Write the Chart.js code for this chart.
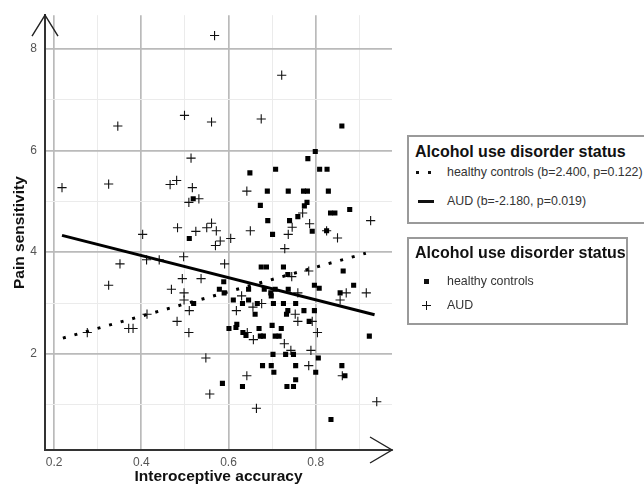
<!DOCTYPE html>
<html>
<head>
<meta charset="utf-8">
<script src="https://cdn.jsdelivr.net/npm/chart.js@4.4.1/dist/chart.umd.min.js"></script>
<style>
  body { margin: 0; background: #fff; font-family: 'Liberation Sans', Arial, sans-serif; }
  #wrap { position: relative; width: 644px; height: 486px; overflow: hidden; }
  #chart { position: absolute; left: 0; top: 0; }
  .legend-box { position: absolute; border: 2.5px solid #9a9a9a; box-sizing: border-box; background: #fff; }
  .legend-title { position: absolute; left: 6px; font-weight: bold; font-size: 16px; line-height: 18px; color: #111; white-space: nowrap; }
  .legend-item { position: absolute; left: 38px; font-size: 12.4px; line-height: 14px; color: #333; white-space: nowrap; }
  .sym { position: absolute; background: #111; }
</style>
</head>
<body>
<div id="wrap">
  <canvas id="chart" width="644" height="486"></canvas>

  <!-- legend: regression lines -->
  <div class="legend-box" style="left:407px; top:135px; width:250px; height:89px;">
    <div class="legend-title" style="top:6px;">Alcohol use disorder status</div>
    <div class="sym" style="left:7px; top:34px; width:3px; height:3px;"></div>
    <div class="sym" style="left:19px; top:34px; width:3px; height:3px;"></div>
    <div class="legend-item" style="top:28px;">healthy controls (b=2.400, p=0.122)</div>
    <div class="sym" style="left:9px; top:63px; width:16px; height:3px;"></div>
    <div class="legend-item" style="top:57px;">AUD (b=-2.180, p=0.019)</div>
  </div>

  <!-- legend: point shapes -->
  <div class="legend-box" style="left:407px; top:237px; width:221px; height:88px;">
    <div class="legend-title" style="top:5px;">Alcohol use disorder status</div>
    <div class="sym" style="left:15px; top:40px; width:5px; height:5px;"></div>
    <div class="legend-item" style="top:35px;">healthy controls</div>
    <div class="sym" style="left:13px; top:66px; width:9px; height:1px;"></div>
    <div class="sym" style="left:17px; top:62px; width:1px; height:9px;"></div>
    <div class="legend-item" style="top:59px;">AUD</div>
  </div>
</div>

<script>
// healthy controls (filled squares)
const healthyX = [0.519, 0.510, 0.860, 0.799, 0.782, 0.649, 0.708, 0.809, 0.826, 0.689, 0.737, 0.772, 0.781, 0.829,
  0.673, 0.780, 0.774, 0.834, 0.844, 0.878, 0.690, 0.740, 0.759, 0.701, 0.792, 0.825, 0.589, 0.579, 0.590, 0.520,
  0.611, 0.601, 0.617, 0.586, 0.675, 0.687, 0.726, 0.736, 0.863, 0.887, 0.797, 0.808, 0.856, 0.646, 0.682, 0.707,
  0.737, 0.697, 0.698, 0.632, 0.646, 0.661, 0.666, 0.703, 0.726, 0.754, 0.736, 0.733, 0.773, 0.797, 0.785, 0.633,
  0.640, 0.670, 0.673, 0.680, 0.700, 0.721, 0.707, 0.716, 0.702, 0.731, 0.749, 0.806, 0.678, 0.698, 0.754, 0.860,
  0.704, 0.800, 0.867, 0.754, 0.632, 0.734, 0.749, 0.835, 0.923, 0.619];
const healthyY = [5.05, 4.27, 6.48, 5.98, 5.84, 5.56, 5.63, 5.63, 5.63, 5.20, 5.20, 5.20, 5.20, 5.20,
  4.92, 4.98, 4.91, 4.77, 4.77, 4.84, 4.62, 4.62, 4.70, 4.35, 4.41, 4.42, 3.42, 3.27, 3.20, 2.99,
  3.06, 2.50, 2.52, 1.42, 3.71, 3.71, 3.71, 3.56, 3.63, 3.35, 3.35, 3.29, 3.20, 3.27, 3.27, 3.27,
  3.27, 3.20, 3.14, 2.99, 3.06, 2.78, 2.99, 2.99, 2.99, 2.99, 2.85, 2.78, 2.85, 2.85, 2.64, 2.42,
  2.36, 2.50, 2.35, 2.35, 2.56, 2.50, 2.35, 2.35, 1.99, 1.99, 1.99, 1.92, 1.77, 1.77, 1.77, 1.77,
  1.64, 1.64, 1.57, 1.49, 1.36, 1.36, 1.36, 0.71, 2.35, 2.58];

// AUD (crosses)
const audX = [0.568, 0.499, 0.561, 0.346, 0.722, 0.675, 0.514, 0.218, 0.325, 0.466, 0.481, 0.517, 0.532, 0.509,
  0.403, 0.483, 0.525, 0.550, 0.561, 0.572, 0.581, 0.570, 0.605, 0.642, 0.770, 0.746, 0.786, 0.926, 0.650,
  0.737, 0.825, 0.850, 0.729, 0.351, 0.412, 0.441, 0.497, 0.591, 0.325, 0.494, 0.537, 0.469, 0.498, 0.498,
  0.510, 0.618, 0.413, 0.482, 0.276, 0.371, 0.381, 0.509, 0.548, 0.557, 0.745, 0.784, 0.870, 0.916, 0.856,
  0.759, 0.630, 0.656, 0.676, 0.753, 0.759, 0.792, 0.804, 0.643, 0.657, 0.728, 0.743, 0.789, 0.784, 0.861,
  0.642, 0.940, 0.664];
const audY = [8.26, 6.69, 6.56, 6.48, 7.48, 6.62, 5.85, 5.27, 5.34, 5.33, 5.41, 5.27, 5.05, 4.98,
  4.35, 4.48, 4.41, 4.48, 4.57, 4.42, 4.22, 4.13, 4.27, 5.20, 4.77, 4.49, 4.56, 4.62, 4.42,
  4.35, 4.42, 4.28, 4.07, 3.77, 3.85, 3.85, 3.91, 3.77, 3.35, 3.48, 3.48, 3.27, 3.20, 3.06,
  2.85, 2.85, 2.78, 2.64, 2.42, 2.50, 2.50, 2.42, 1.92, 1.21, 3.52, 3.63, 3.20, 3.20, 3.06,
  3.20, 3.14, 2.92, 2.99, 2.78, 2.64, 2.64, 2.42, 2.42, 2.28, 2.20, 2.07, 2.07, 1.77, 1.57,
  1.57, 1.06, 0.93];

// fitted regression lines (end points)
const healthyFitX = [0.22, 0.915];
const healthyFitY = [2.31, 3.98];
const audFitX = [0.218, 0.935];
const audFitY = [4.33, 2.77];

// axes
const xTicks = [0.2, 0.3, 0.4, 0.5, 0.6, 0.7, 0.8, 0.9];
const yTicks = [1, 2, 3, 4, 5, 6, 7, 8];
const xRange = [0.179, 0.975];
const yRange = [0.11, 8.66];

const pts = (xs, ys) => xs.map((x, i) => ({ x: x, y: ys[i] }));
const isMajorX = v => Math.abs(v * 5 - Math.round(v * 5)) < 1e-6;
const isMajorY = v => v % 2 === 0;

const tickFont = { family: "'Liberation Sans', Arial, sans-serif", size: 12 };
const titleFont = { family: "'Liberation Sans', Arial, sans-serif", size: 15.5, weight: 'bold' };

// arrow heads at the ends of both axes
const axisArrows = {
  id: 'axisArrows',
  afterDraw(chart) {
    const { ctx, chartArea: a } = chart;
    ctx.save();
    ctx.strokeStyle = '#222';
    ctx.lineWidth = 1.4;
    ctx.beginPath();
    ctx.moveTo(a.left - 13, a.top + 21);
    ctx.lineTo(a.left, a.top);
    ctx.lineTo(a.left + 13, a.top + 21);
    ctx.moveTo(a.right - 22, a.bottom - 13);
    ctx.lineTo(a.right, a.bottom);
    ctx.lineTo(a.right - 22, a.bottom + 13);
    ctx.stroke();
    ctx.restore();
  }
};

new Chart(document.getElementById('chart'), {
  type: 'scatter',
  data: {
    datasets: [
      { label: 'healthy controls fit', type: 'line', data: pts(healthyFitX, healthyFitY), borderColor: '#000',
        borderWidth: 3, borderDash: [3, 9], pointRadius: 0, fill: false, order: 0 },
      { label: 'AUD fit', type: 'line', data: pts(audFitX, audFitY), borderColor: '#000',
        borderWidth: 3, pointRadius: 0, fill: false, order: 0 },
      { label: 'healthy controls', data: pts(healthyX, healthyY), pointStyle: 'rect', pointRadius: 3.6,
        backgroundColor: '#000', borderColor: '#000', borderWidth: 0, order: 1 },
      { label: 'AUD', data: pts(audX, audY), pointStyle: 'cross', pointRadius: 4.6,
        borderColor: '#111', borderWidth: 1.1, order: 1 }
    ]
  },
  options: {
    responsive: false,
    animation: false,
    devicePixelRatio: 1,
    layout: { padding: { top: 12, right: 252, left: 10, bottom: 0 } },
    plugins: { legend: { display: false }, tooltip: { enabled: false } },
    scales: {
      x: {
        type: 'linear', min: xRange[0], max: xRange[1],
        afterBuildTicks: s => { s.ticks = xTicks.map(v => ({ value: v })); },
        afterFit: s => { s.height = 36; },
        ticks: { color: '#555', font: tickFont, padding: 5,
          callback: v => isMajorX(v) ? v.toFixed(1) : '' },
        grid: { drawTicks: false,
          color: c => isMajorX(c.tick.value) ? '#bababa' : '#ebebeb',
          lineWidth: c => isMajorX(c.tick.value) ? 1.7 : 1 },
        border: { display: true, color: '#333', width: 2 },
        title: { display: true, text: 'Interoceptive accuracy', color: '#111', font: titleFont, padding: 0 }
      },
      y: {
        type: 'linear', min: yRange[0], max: yRange[1],
        afterBuildTicks: s => { s.ticks = yTicks.map(v => ({ value: v })); },
        afterFit: s => { s.width = 35; },
        ticks: { color: '#555', font: tickFont, padding: 8,
          callback: v => isMajorY(v) ? String(v) : '' },
        grid: { drawTicks: false,
          color: c => isMajorY(c.tick.value) ? '#bababa' : '#ebebeb',
          lineWidth: c => isMajorY(c.tick.value) ? 1.7 : 1 },
        border: { display: true, color: '#333', width: 2 },
        title: { display: true, text: 'Pain sensitivity', color: '#111', font: titleFont, padding: 0 }
      }
    }
  },
  plugins: [axisArrows]
});
</script>
</body>
</html>
